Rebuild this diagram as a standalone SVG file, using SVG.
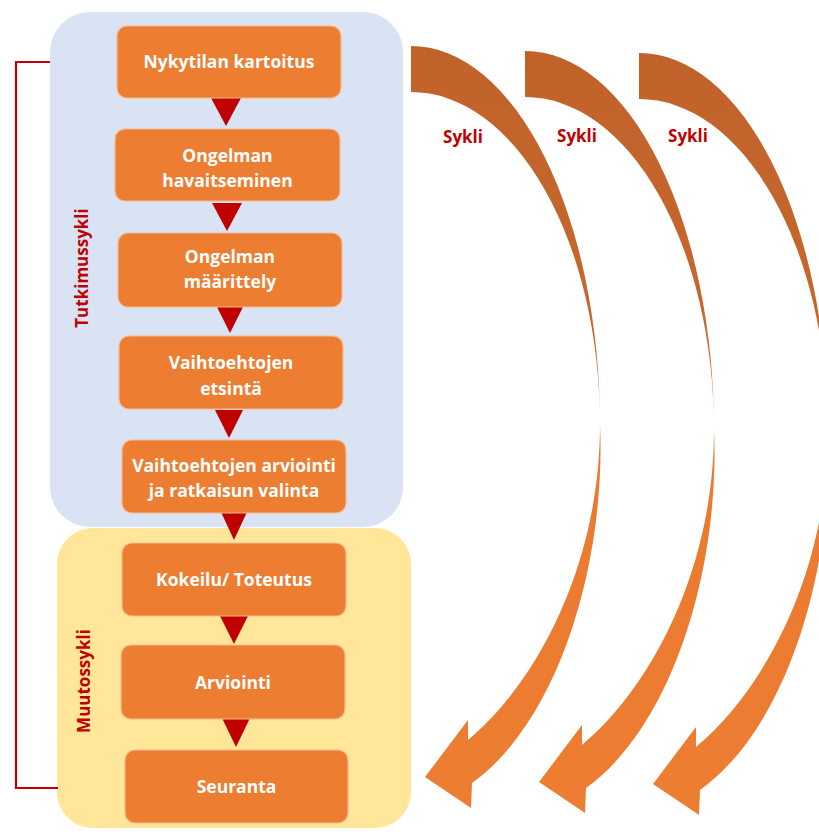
<svg xmlns="http://www.w3.org/2000/svg" width="819" height="832" viewBox="0 0 819 832">
<style>
.box{fill:#ED7D31;stroke:#F6B98E;stroke-width:1.2}
.bt{font-family:"Open Sans","Liberation Sans",sans-serif;font-weight:bold;font-size:17.5px;fill:#FFFFFF;text-anchor:middle}
.lbl{font-family:"Open Sans","Liberation Sans",sans-serif;font-weight:bold;font-size:17px;fill:#C00000;text-anchor:middle}
.tri{fill:#C00000}
.br{fill:none;stroke:#C00000;stroke-width:2.2}
</style>
<defs>
<linearGradient id="ag" gradientUnits="userSpaceOnUse" x1="0" y1="46" x2="0" y2="808">
<stop offset="0" stop-color="#C0622A"/>
<stop offset="0.45" stop-color="#C86A2E"/>
<stop offset="0.55" stop-color="#E97A30"/>
<stop offset="1" stop-color="#ED7D31"/>
</linearGradient>
<g id="carrow">
<path d="M411,46 A189,379 0 0 1 600,425 A189,333 0 0 0 411,92 Z" fill="url(#ag)"/>
<path d="M600,425 C606,560 560,720 472,783 L471,808 L425,777 L468,720 L468,740 C540,680 600,560 600,425 Z" fill="url(#ag)"/>
</g>
</defs>
<g id="panels">
<rect id="panel-tutkimus" x="50" y="12" width="353" height="515" rx="40" fill="#DAE3F3"/>
<rect id="panel-muutos" x="57" y="528" width="354" height="300" rx="36" fill="#FFE699"/>
</g>
<g id="connectors">
<polyline class="br" points="50,62 16,62 16,788 58,788"/>
<polygon class="tri" points="211,98 241,98 226,126"/>
<polygon class="tri" points="212,203 242,203 227,231"/>
<polygon class="tri" points="216,305 244,305 230,333"/>
<polygon class="tri" points="215,410 243,410 229,438"/>
<polygon class="tri" points="221,512 247,512 234,540"/>
<polygon class="tri" points="220,616 248,616 234,644"/>
<polygon class="tri" points="222,718 250,718 236,747"/>
<use href="#carrow"/>
<use href="#carrow" transform="translate(114,5)"/>
<use href="#carrow" transform="translate(228,7)"/>
</g>
<g id="n1"><rect class="box" x="117" y="26" width="224" height="72" rx="10"/><text class="bt" x="229" y="68">Nykytilan kartoitus</text></g>
<g id="n2"><rect class="box" x="115" y="129" width="225" height="72" rx="10"/><text class="bt" x="227.5" y="162">Ongelman</text><text class="bt" x="227.5" y="187">havaitseminen</text></g>
<g id="n3"><rect class="box" x="118" y="233" width="224" height="74" rx="10"/><text class="bt" x="230" y="263">Ongelman</text><text class="bt" x="230" y="288">määrittely</text></g>
<g id="n4"><rect class="box" x="119" y="336" width="224" height="73" rx="10"/><text class="bt" x="231" y="369">Vaihtoehtojen</text><text class="bt" x="231" y="395">etsintä</text></g>
<g id="n5"><rect class="box" x="122" y="440" width="224" height="73" rx="10"/><text class="bt" x="234" y="472">Vaihtoehtojen arviointi</text><text class="bt" x="234" y="497">ja ratkaisun valinta</text></g>
<g id="n6"><rect class="box" x="122" y="543" width="224" height="73" rx="10"/><text class="bt" x="234" y="586">Kokeilu/ Toteutus</text></g>
<g id="n7"><rect class="box" x="121" y="645" width="224" height="74" rx="10"/><text class="bt" x="233" y="689">Arviointi</text></g>
<g id="n8"><rect class="box" x="125" y="750" width="223" height="73" rx="10"/><text class="bt" x="236.5" y="793">Seuranta</text></g>
<g id="labels">
<text class="lbl" transform="translate(88,268) rotate(-90)">Tutkimussykli</text>
<text class="lbl" transform="translate(90,681) rotate(-90)">Muutossykli</text>
<text class="lbl" x="463" y="143">Sykli</text>
<text class="lbl" x="577" y="142">Sykli</text>
<text class="lbl" x="688" y="142">Sykli</text>
</g>
</svg>
